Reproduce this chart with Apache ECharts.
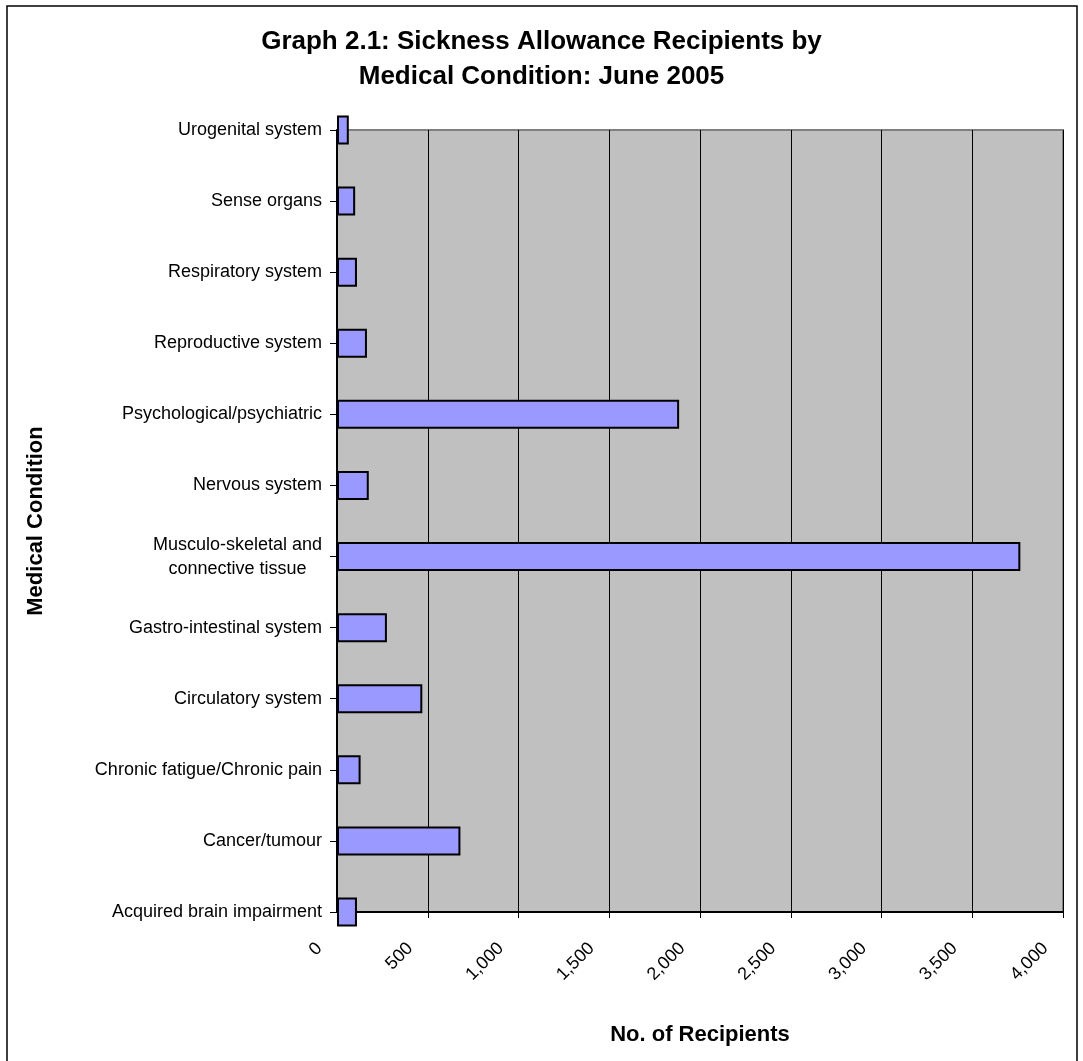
<!DOCTYPE html>
<html>
<head>
<meta charset="utf-8">
<style>
  html, body { margin: 0; padding: 0; background: #ffffff; }
  #chart { width: 1083px; height: 1061px; }
</style>
<script src="https://cdn.jsdelivr.net/npm/echarts@6/dist/echarts.min.js"></script>
</head>
<body>
<div id="chart"></div>
<script>
// Medical conditions, listed bottom to top on the category axis
const conditions = [
  'Acquired brain impairment',
  'Cancer/tumour',
  'Chronic fatigue/Chronic pain',
  'Circulatory system',
  'Gastro-intestinal system',
  'Musculo-skeletal and connective tissue',
  'Nervous system',
  'Psychological/psychiatric',
  'Reproductive system',
  'Respiratory system',
  'Sense organs',
  'Urogenital system'
];

// Number of Sickness Allowance recipients, June 2005
const recipients = [110, 680, 130, 470, 275, 3765, 175, 1885, 165, 110, 100, 65];

// Recipient axis ticks
const recipientTicks = [0, 500, 1000, 1500, 2000, 2500, 3000, 3500, 4000];

const FONT = '"Liberation Sans", Arial, sans-serif';

const chart = echarts.init(document.getElementById('chart'), null, { renderer: 'canvas' });

chart.setOption({
  backgroundColor: '#ffffff',
  animation: false,
  title: {
    text: 'Graph 2.1: Sickness Allowance Recipients by\nMedical Condition: June 2005',
    left: 'center',
    top: 19,
    textStyle: {
      fontFamily: FONT,
      fontSize: 26,
      fontWeight: 'bold',
      color: '#000000',
      lineHeight: 35
    }
  },
  graphic: [{
    type: 'rect',
    shape: { x: 7, y: 6, width: 1070, height: 1100 },
    style: { fill: null, stroke: '#000000', lineWidth: 1.5 },
    silent: true,
    z: 100
  }],
  grid: {
    left: 337,
    right: 20,
    top: 130,
    bottom: 149,
    show: true,
    backgroundColor: '#C0C0C0',
    borderColor: '#808080',
    borderWidth: 2
  },
  xAxis: {
    type: 'value',
    min: recipientTicks[0],
    max: recipientTicks[recipientTicks.length - 1],
    interval: recipientTicks[1] - recipientTicks[0],
    name: 'No. of Recipients',
    nameLocation: 'middle',
    nameGap: 112,
    nameTextStyle: {
      fontFamily: FONT,
      fontSize: 22,
      fontWeight: 'bold',
      color: '#000000'
    },
    axisLine: { show: true, lineStyle: { color: '#000000', width: 2 } },
    axisTick: { show: true, length: 6, lineStyle: { color: '#000000', width: 1 } },
    axisLabel: {
      rotate: 45,
      margin: 16,
      padding: [0, 25, 0, 0],
      fontFamily: FONT,
      fontSize: 18,
      color: '#000000',
      formatter: v => v.toLocaleString('en-US')
    },
    splitLine: { show: true, lineStyle: { color: '#000000', width: 1 } }
  },
  yAxis: {
    type: 'category',
    data: conditions,
    boundaryGap: false,
    name: 'Medical Condition',
    nameLocation: 'middle',
    nameGap: 290,
    nameRotate: 90,
    nameTextStyle: {
      fontFamily: FONT,
      fontSize: 22,
      fontWeight: 'bold',
      color: '#000000'
    },
    axisLine: { show: true, lineStyle: { color: '#000000', width: 2 } },
    axisTick: { show: true, length: 7, alignWithLabel: true, lineStyle: { color: '#000000', width: 1 } },
    axisLabel: {
      margin: 15,
      fontFamily: FONT,
      fontSize: 18,
      color: '#000000',
      formatter: v => v === 'Musculo-skeletal and connective tissue'
        ? '{c|Musculo-skeletal and}\n{c|connective tissue}'
        : v,
      rich: {
        c: { align: 'center', fontFamily: FONT, fontSize: 18, color: '#000000', lineHeight: 24 }
      }
    },
    splitLine: { show: false }
  },
  series: [{
    type: 'bar',
    data: recipients,
    barWidth: 29,
    clip: false,
    itemStyle: {
      color: '#9999FF',
      borderColor: '#000000',
      borderWidth: 2
    }
  }]
});
</script>
</body>
</html>
